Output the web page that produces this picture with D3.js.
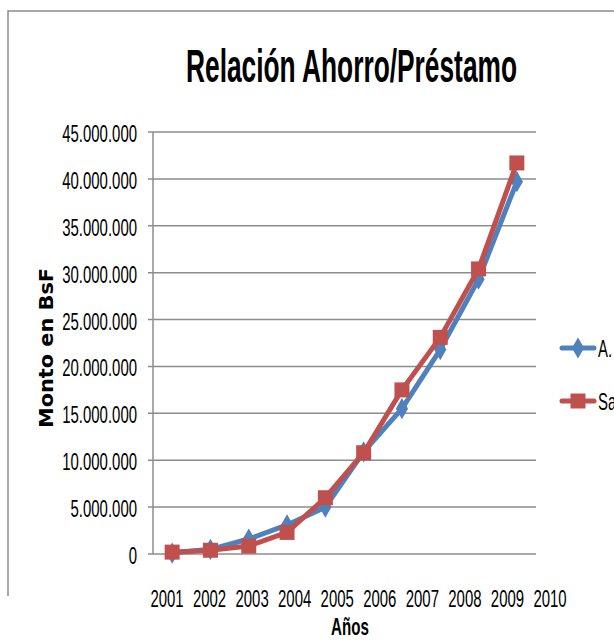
<!DOCTYPE html>
<html>
<head>
<meta charset="utf-8">
<script src="https://cdn.jsdelivr.net/npm/d3@7"></script>
<style>
  html, body { margin: 0; padding: 0; background: #fff; overflow: hidden; }
</style>
</head>
<body>
<div class="chart"></div>
<script>
// datos
const years = ["2001", "2002", "2003", "2004", "2005", "2006", "2007", "2008", "2009", "2010"]
const ahorro = [100000, 500000, 1600000, 3100000, 5000000, 10900000, 15500000, 21800000, 29300000, 39700000]
const prestamo = [200000, 400000, 850000, 2300000, 6000000, 10800000, 17500000, 23100000, 30400000, 41700000]
const yTicks = [0, 5000000, 10000000, 15000000, 20000000, 25000000, 30000000, 35000000, 40000000, 45000000]
const seriesNames = ["A. Ahorro", "Saldo Préstamo"]

const width = 614
const height = 644
const font = "'Liberation Sans', Arial, sans-serif"
const squeeze = 0.65 // letra condensada tipo Calibri

const svg = d3.select(".chart").append("svg")
  .attr("width", width)
  .attr("height", height)

// texto estrecho: se escala en horizontal
function narrowText(parent, str, x, y, anchor, size, bold, sx) {
  const g = parent.append("g")
    .attr("transform", "translate(" + x + "," + y + ") scale(" + (sx || squeeze) + ",1)")
  g.append("text")
    .text(str)
    .attr("text-anchor", anchor)
    .attr("font-family", font)
    .attr("font-size", size + "px")
    .attr("font-weight", bold ? "bold" : "normal")
    .attr("fill", "#000")
  return g
}

// marco del grafico
svg.append("path")
  .attr("d", "M8,596 L8,11 L620,11")
  .attr("fill", "none")
  .attr("stroke", "#8c8c8c")
  .attr("stroke-width", 1.5)

// escalas
const x = d3.scaleBand()
  .domain(years)
  .range([153, 536])

const xLabel = d3.scalePoint()
  .domain(years)
  .range([167, 550])

const y = d3.scaleLinear()
  .domain([0, 45000000])
  .range([554, 132])

const fmt = v => d3.format(",")(v).replace(/,/g, ".")

// lineas de cuadricula
svg.append("g")
  .selectAll("line")
  .data(yTicks)
  .enter()
  .append("line")
  .attr("x1", 148)
  .attr("x2", 536)
  .attr("y1", d => y(d))
  .attr("y2", d => y(d))
  .attr("stroke", "#8c8c8c")
  .attr("stroke-width", 1.5)

// eje vertical
svg.append("line")
  .attr("x1", 153).attr("x2", 153)
  .attr("y1", y(45000000)).attr("y2", y(0))
  .attr("stroke", "#8c8c8c")
  .attr("stroke-width", 1.5)

// etiquetas eje y
const yLab = svg.append("g")
yTicks.forEach(d => narrowText(yLab, fmt(d), 137, y(d) + 10, "end", 23, false))

// etiquetas eje x
const xLab = svg.append("g")
years.forEach(d => narrowText(xLab, d, xLabel(d), 607, "middle", 23, false))

// titulos
svg.append("text")
  .text("Relación Ahorro/Préstamo")
  .attr("x", 186)
  .attr("y", 82)
  .attr("textLength", 331)
  .attr("lengthAdjust", "spacingAndGlyphs")
  .attr("font-family", font)
  .attr("font-weight", "bold")
  .attr("font-size", "46px")

narrowText(svg, "Años", 350, 635, "middle", 24, true, 0.63)

svg.append("text")
  .text("Monto en BsF")
  .attr("transform", "translate(53,428) rotate(-90)")
  .attr("textLength", 160)
  .attr("lengthAdjust", "spacingAndGlyphs")
  .attr("font-family", "'DejaVu Sans', Verdana, sans-serif")
  .attr("font-weight", "bold")
  .attr("font-size", "20px")

// series
const cx = d => x(d) + x.bandwidth() / 2
const line = d3.line()
  .x(d => cx(d[0]))
  .y(d => y(d[1]))

const series = [
  { name: seriesNames[0], values: ahorro, color: "#4f81bd", marker: d3.symbolDiamond, size: 130 },
  { name: seriesNames[1], values: prestamo, color: "#c0504d", marker: d3.symbolSquare, size: 225 }
]

series.forEach(s => {
  const pts = years.map((yr, i) => [yr, s.values[i]])
  const g = svg.append("g")
  g.append("path")
    .attr("d", line(pts))
    .attr("fill", "none")
    .attr("stroke", s.color)
    .attr("stroke-width", 5)
    .attr("stroke-linejoin", "round")
  g.selectAll("path.m")
    .data(pts)
    .enter()
    .append("path")
    .attr("class", "m")
    .attr("d", d3.symbol().type(s.marker).size(s.size))
    .attr("transform", d => "translate(" + cx(d[0]) + "," + y(d[1]) + ")")
    .attr("fill", s.color)
})

// leyenda
const legend = svg.append("g")
  .selectAll("g")
  .data(series)
  .enter()
  .append("g")
  .attr("transform", (d, i) => "translate(562," + (348 + i * 53) + ")")

legend.append("line")
  .attr("x1", 0).attr("x2", 32)
  .attr("stroke", d => d.color)
  .attr("stroke-width", 5)
  .attr("stroke-linecap", "round")

legend.append("path")
  .attr("d", d => d3.symbol().type(d.marker).size(d.size)())
  .attr("transform", "translate(16,0)")
  .attr("fill", d => d.color)

legend.each(function (d) {
  narrowText(d3.select(this), d.name, 36, 9, "start", 23, false)
})
</script>
</body>
</html>
